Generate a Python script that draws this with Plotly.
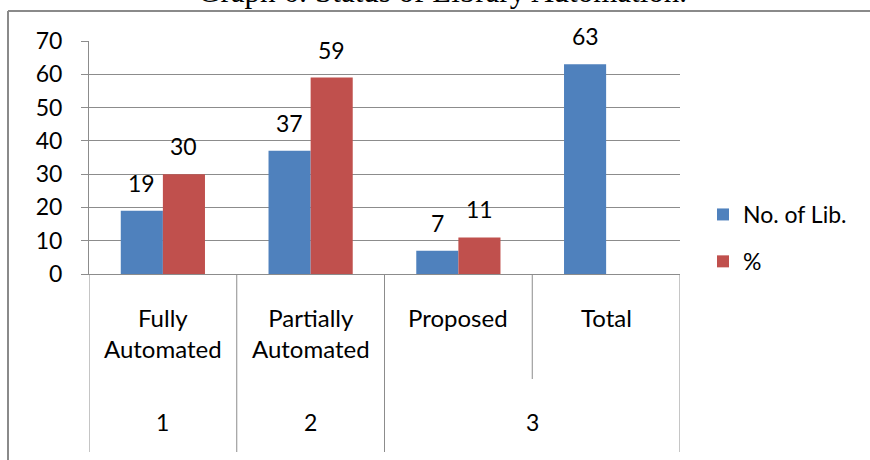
import plotly.graph_objects as go

# ---- data ----
categories = ["Fully<br>Automated", "Partially<br>Automated", "Proposed", "Total"]
groups = ["1", "2", "3"]
group_span = [[0], [1], [2, 3]]          # which categories each group label covers
no_of_lib = [19, 37, 7, 63]
percent = [30, 59, 11, None]
series_names = ["No. of Lib.", "%"]
y_ticks = [0, 10, 20, 30, 40, 50, 60, 70]
title_text = "Graph 6: Status of Library Automation."

# ---- style ----
BLUE = "#4F81BD"
RED = "#C0504D"
GRID = "#8C8C8C"
FONT = "Lato"
FS = 23
W, H = 870, 460
L, R, T, B = 89, 190, 41, 186
plot_h = H - T - B
plot_w = W - L - R
bargap = 0.43


def py(pix):
    """pixel row -> paper y"""
    return (H - B - pix) / plot_h


def px(pix):
    return (pix - L) / plot_w


xs = list(range(len(categories)))

fig = go.Figure()
fig.add_trace(go.Bar(x=xs, y=no_of_lib, name=series_names[0], marker_color=BLUE,
                     marker_line_width=0, legendgroup="a"))
fig.add_trace(go.Bar(x=xs, y=percent, name=series_names[1], marker_color=RED,
                     marker_line_width=0, legendgroup="b"))

bw = (1 - bargap) / 2
annotations = []
for series, off in ((no_of_lib, -bw / 2), (percent, bw / 2)):
    for xi, v in zip(xs, series):
        if v is None:
            continue
        annotations.append(dict(x=xi + off, y=v, xref="x", yref="y", text=str(v),
                                showarrow=False, yanchor="bottom", yshift=12,
                                font=dict(family=FONT, size=FS, color="black")))

for xi, c in zip(xs, categories):
    annotations.append(dict(x=xi, y=py(301), xref="x", yref="paper", text=c,
                            showarrow=False, yanchor="top",
                            font=dict(family=FONT, size=24, color="black")))

for g, span in zip(groups, group_span):
    annotations.append(dict(x=sum(span) / len(span), y=py(422), xref="x", yref="paper",
                            text=g, showarrow=False, yanchor="middle",
                            font=dict(family=FONT, size=FS, color="black")))

annotations.append(dict(x=px(442), y=py(-8), xref="paper", yref="paper", text=title_text,
                        showarrow=False, yanchor="middle", xanchor="center",
                        font=dict(family="Liberation Serif", size=31, color="black")))

shapes = []
# dividers between categories (full height) and inside group 3 (short)
bounds = [x - 0.5 for x in xs] + [xs[-1] + 0.5]
for b in bounds:
    short = (b == 2.5)
    shapes.append(dict(type="line", xref="x", yref="paper", x0=b, x1=b,
                       y0=0, y1=py(379) if short else py(452),
                       line=dict(color=GRID, width=1)))
# outer frame: left and top edges
FRAME = dict(color="#8A8A8A", width=2)
shapes.append(dict(type="line", xref="paper", yref="paper", x0=px(8), x1=px(8),
                   y0=py(470), y1=py(11), line=FRAME, layer="below"))
shapes.append(dict(type="line", xref="paper", yref="paper", x0=px(8), x1=px(880),
                   y0=py(11), y1=py(11), line=FRAME, layer="below"))

fig.update_layout(
    width=W, height=H,
    margin=dict(l=L, r=R, t=T, b=B),
    paper_bgcolor="white", plot_bgcolor="white",
    barmode="group", bargap=bargap, bargroupgap=0,
    showlegend=True,
    legend=dict(x=px(703), y=py(193), xanchor="left", yanchor="top",
                font=dict(family=FONT, size=FS, color="black"),
                tracegroupgap=14, bgcolor="rgba(0,0,0,0)"),
    annotations=annotations,
    shapes=shapes,
    font=dict(family=FONT, size=FS, color="black"),
)
fig.update_xaxes(range=[-0.5, len(categories) - 0.5], showticklabels=False, showgrid=False,
                 showline=True, linecolor=GRID, linewidth=1, zeroline=False, ticks="")
fig.update_yaxes(range=[0, 70], tickvals=y_ticks, showgrid=True, gridcolor=GRID, gridwidth=1,
                 showline=True, linecolor=GRID, linewidth=1, ticks="outside", ticklen=7,
                 tickcolor=GRID, ticklabelstandoff=14, zeroline=False,
                 tickfont=dict(family=FONT, size=FS, color="black"))

fig.write_html("out.html")
